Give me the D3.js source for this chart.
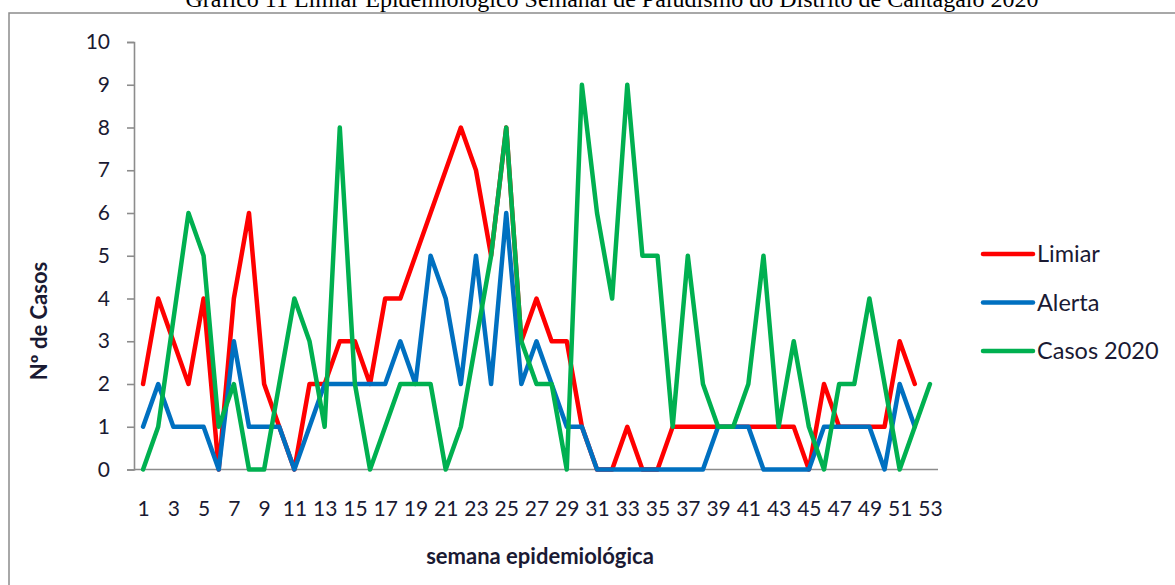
<!DOCTYPE html>
<html>
<head>
<meta charset="utf-8">
<script src="https://cdn.jsdelivr.net/npm/d3@7"></script>
<style>
    body { margin: 0; background: #fff; }
    #grafico { width: 1175px; height: 585px; }
</style>
</head>
<body>
<div id="grafico"></div>
<script>

// semanas epidemiologicas 1..53
var semanas = ["1","2","3","4","5","6","7","8","9","10","11","12","13","14","15","16","17","18","19","20",
    "21","22","23","24","25","26","27","28","29","30","31","32","33","34","35","36","37","38","39","40",
    "41","42","43","44","45","46","47","48","49","50","51","52","53"];

var limiar = [2,4,3,2,4,0,4,6,2,1,0,2,2,3,3,2,4,4,5,6,7,8,7,5,8,3,4,3,3,1,0,0,1,0,0,1,1,1,1,1,1,1,1,1,0,2,1,1,1,1,3,2];
var alerta = [1,2,1,1,1,0,3,1,1,1,0,1,2,2,2,2,2,3,2,5,4,2,5,2,6,2,3,2,1,1,0,0,0,0,0,0,0,0,1,1,1,0,0,0,0,1,1,1,1,0,2,1];
var casos2020 = [0,1,3.5,6,5,1,2,0,0,2,4,3,1,8,2,0,1,2,2,2,0,1,3,5,8,3,2,2,0,9,6,4,9,5,5,1,5,2,1,1,2,5,1,3,1,0,2,2,4,2,0,1,2];

var yTicks = [0,1,2,3,4,5,6,7,8,9,10];
var xTicks = semanas.filter(function(d, i) { return i % 2 == 0; });

var series = [
    {nome: "Limiar", valores: limiar, cor: "#ff0000"},
    {nome: "Alerta", valores: alerta, cor: "#0070c0"},
    {nome: "Casos 2020", valores: casos2020, cor: "#00b050"}
];

var width = 1175, height = 585;
var corTexto = "#1a1a33";
var corEixo = "#8c8c8c";
var fonte = "Lato, 'Open Sans', sans-serif";

var svg = d3.select("#grafico").append("svg")
    .attr("width", width)
    .attr("height", height);

// moldura do grafico
svg.append("rect")
    .attr("x", 9)
    .attr("y", 13)
    .attr("width", width)
    .attr("height", height)
    .style("fill", "none")
    .style("stroke", corEixo)
    .style("stroke-width", 1.5);

// titulo (cortado no topo como no original)
svg.append("text")
    .attr("x", 612)
    .attr("y", 7)
    .attr("text-anchor", "middle")
    .style("font-family", "'Liberation Serif', 'Times New Roman', serif")
    .style("font-size", "24px")
    .style("fill", "#000")
    .text("Gráfico 11 Limiar Epidemiológico Semanal de Paludismo do Distrito de Cantagalo 2020");

var x = d3.scalePoint()
    .domain(semanas)
    .range([135.5, 937.5])
    .padding(0.5);

var y = d3.scaleLinear()
    .domain([0, 10])
    .range([469.5, 42]);

// eixo y
var gy = svg.append("g")
    .attr("transform", "translate(134,0)")
    .call(d3.axisLeft(y).tickValues(yTicks).tickSize(7).tickPadding(17));

// eixo x
var gx = svg.append("g")
    .attr("transform", "translate(0," + y(0) + ")")
    .call(d3.axisBottom(x).tickValues(xTicks).tickSize(0).tickPadding(32));

gx.select(".domain").attr("d", "M134.5,0H938");

[gx, gy].forEach(function(g) {
    g.selectAll("path, line")
        .style("stroke", corEixo)
        .style("stroke-width", 1.6);
    g.selectAll("text")
        .style("font-family", fonte)
        .style("font-size", "21px")
        .style("fill", corTexto);
});

// linhas
var linha = d3.line()
    .x(function(d, i) { return x(semanas[i]); })
    .y(function(d) { return y(d); });

series.forEach(function(s) {
    svg.append("path")
        .datum(s.valores)
        .attr("d", linha)
        .style("fill", "none")
        .style("stroke", s.cor)
        .style("stroke-width", 4.5)
        .style("stroke-linejoin", "round")
        .style("stroke-linecap", "round");
});

// titulos dos eixos
svg.append("text")
    .attr("transform", "translate(47,321) rotate(-90)")
    .attr("text-anchor", "middle")
    .style("font-family", fonte)
    .style("font-weight", "bold")
    .style("font-size", "22px")
    .style("fill", corTexto)
    .text("Nº de Casos");

svg.append("text")
    .attr("x", 540)
    .attr("y", 564)
    .attr("text-anchor", "middle")
    .style("font-family", fonte)
    .style("font-weight", "bold")
    .style("font-size", "22px")
    .style("fill", corTexto)
    .text("semana epidemiológica");

// legenda
var legenda = svg.append("g");
series.forEach(function(s, i) {
    var ly = 254 + i * 48.5;
    legenda.append("line")
        .attr("x1", 983).attr("x2", 1033)
        .attr("y1", ly).attr("y2", ly)
        .style("stroke", s.cor)
        .style("stroke-width", 4.5)
        .style("stroke-linecap", "round");
    legenda.append("text")
        .attr("x", 1037)
        .attr("y", ly + 8)
        .style("font-family", fonte)
        .style("font-size", "23.5px")
        .style("fill", corTexto)
        .text(s.nome);
});

</script>
</body>
</html>
